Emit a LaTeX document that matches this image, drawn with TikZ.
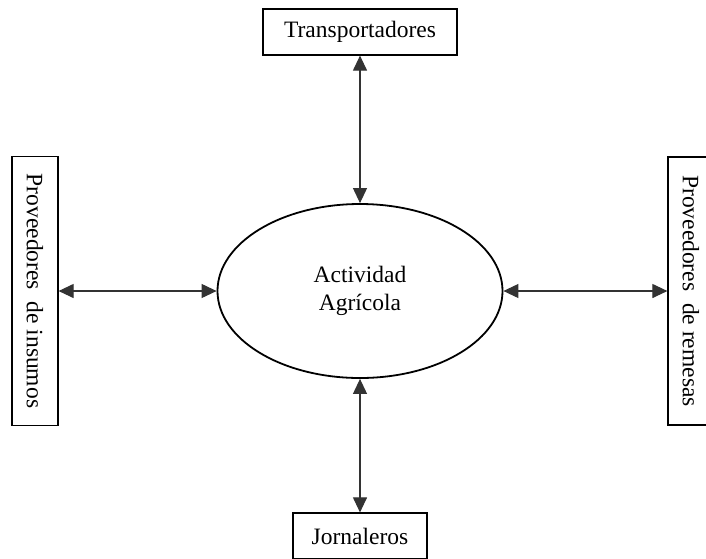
\documentclass[tikz,border=0pt]{standalone}
\usepackage{fontspec}
\setmainfont{Liberation Serif}
\usetikzlibrary{shapes.geometric,arrows.meta}

\begin{document}
\begin{tikzpicture}[x=1pt,y=-1pt,
  every node/.style={font=\fontsize{23.5}{28}\selectfont},
  caja/.style={draw,rectangle,line width=1.2pt,inner sep=0pt},
  elipse/.style={draw,ellipse,line width=1.8pt,inner sep=0pt,align=center,
    minimum width=285,minimum height=174},
  flecha/.style={{Triangle[length=15pt,width=14pt]}-{Triangle[length=15pt,width=14pt]},
    line width=1.1pt,draw=black!80}
  ]
  \clip (0,0) rectangle (706,558);
  \node[elipse] (actividad) at (360,291) {Actividad\\Agrícola};
  \node[caja,minimum width=194,minimum height=46] (transp) at (360,32) {Transportadores};
  \node[caja,minimum width=46,minimum height=269] (insumos) at (35,291)
    {\rotatebox{-90}{Proveedores\ \ de insumos}};
  \node[caja,minimum width=46,minimum height=268] (remesas) at (691,291)
    {\rotatebox{-90}{Proveedores\ \ de remesas}};
  \node[caja,minimum width=134,minimum height=46] (jornal) at (360,536) {Jornaleros};
  % conexiones
  \draw[flecha] (transp.south) -- (actividad.north);
  \draw[flecha] (insumos.east) -- (actividad.west);
  \draw[flecha] (actividad.east) -- (remesas.west);
  \draw[flecha] (actividad.south) -- (jornal.north);
\end{tikzpicture}
\end{document}
